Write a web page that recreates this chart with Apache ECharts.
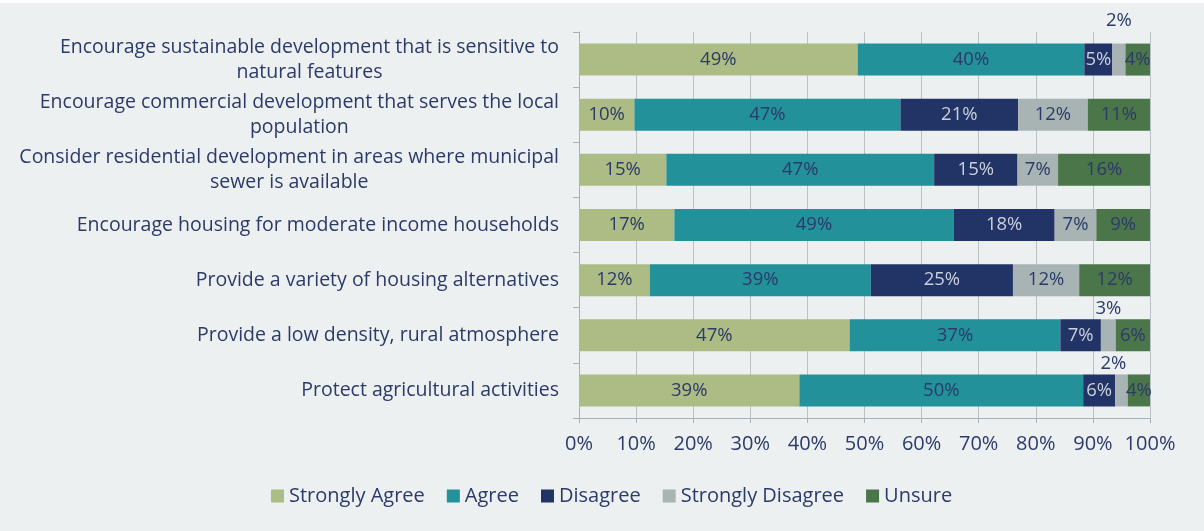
<!DOCTYPE html>
<html>
<head>
<meta charset="utf-8">
<script src="https://cdn.jsdelivr.net/npm/echarts@6/dist/echarts.min.js"></script>
<style>
  html, body { margin: 0; padding: 0; background: #ffffff; }
  #chart { width: 1204px; height: 528px; margin-top: 3px; background: #ecf0f0; }
</style>
</head>
<body>
<div id="chart"></div>
<script>
// Survey statements (top to bottom)
const categories = [
  'Encourage sustainable development that is sensitive to\nnatural features',
  'Encourage commercial development that serves the local\npopulation',
  'Consider residential development in areas where municipal\nsewer is available',
  'Encourage housing for moderate income households',
  'Provide a variety of housing alternatives',
  'Provide a low density, rural atmosphere',
  'Protect agricultural activities'
];

const seriesNames = ['Strongly Agree', 'Agree', 'Disagree', 'Strongly Disagree', 'Unsure'];

// Share of respondents (%) per statement
const stronglyAgree    = [48.8,  9.7, 15.3, 16.7, 12.4, 47.4, 38.6];
const agree            = [39.7, 46.6, 46.9, 48.9, 38.7, 36.9, 49.7];
const disagree         = [ 4.9, 20.6, 14.6, 17.7, 24.9,  7.1,  5.6];
const stronglyDisagree = [ 2.3, 12.2,  7.1,  7.3, 11.6,  2.6,  2.2];
const unsure           = [ 4.3, 10.9, 16.1,  9.4, 12.4,  6.0,  3.9];

const xTicks = [0, 10, 20, 30, 40, 50, 60, 70, 80, 90, 100];

const seriesValues = [stronglyAgree, agree, disagree, stronglyDisagree, unsure];
const colors = ['#adbb84', '#22919a', '#223366', '#a8b3b4', '#4a764a'];
const labelColors = ['#2c3a69', '#2c3a69', '#c9d0dc', '#2c3a69', '#2c3a69'];

const FONT = '"Open Sans", "Noto Sans", sans-serif';
const TEXT = '#2c3a69';

// Thin segments get their label lifted above the bar
function dataFor(values, si) {
  return values.map((v, i) => {
    if (si === 3 && v < 4) {
      return {
        value: v,
        label: {
          position: 'top',
          distance: i === 0 ? 13 : 1,
          offset: i === 6 ? [-8, 0] : [0, 0]
        }
      };
    }
    return v;
  });
}

const series = seriesNames.map((name, si) => ({
  name: name,
  type: 'bar',
  stack: 'total',
  barWidth: 32,
  itemStyle: { color: colors[si] },
  label: {
    show: true,
    position: 'inside',
    color: labelColors[si],
    fontFamily: FONT,
    fontSize: 18.5,
    formatter: p => Math.round(p.value) + '%'
  },
  emphasis: { disabled: true },
  data: dataFor(seriesValues[si], si)
}));

const chart = echarts.init(document.getElementById('chart'), null, { renderer: 'canvas' });
chart.setOption({
  animation: false,
  backgroundColor: '#ecf0f0',
  color: colors,
  grid: { left: 579, right: 54, top: 29, bottom: 113, containLabel: false },
  legend: {
    data: seriesNames,
    left: 266,
    top: 478,
    icon: 'rect',
    itemWidth: 13,
    itemHeight: 13,
    itemGap: 22,
    textStyle: { color: TEXT, fontFamily: FONT, fontSize: 20 }
  },
  xAxis: {
    type: 'value',
    min: xTicks[0],
    max: xTicks[xTicks.length - 1],
    interval: xTicks[1] - xTicks[0],
    axisLine: { show: true, lineStyle: { color: '#a7b1b6', width: 1 } },
    axisTick: { show: true, length: 5, lineStyle: { color: '#a7b1b6' } },
    splitLine: { show: true, lineStyle: { color: '#b9c2c6', width: 1 } },
    axisLabel: {
      color: TEXT,
      fontFamily: FONT,
      fontSize: 20,
      margin: 16,
      formatter: '{value}%'
    }
  },
  yAxis: {
    type: 'category',
    inverse: true,
    data: categories,
    axisLine: { show: true, lineStyle: { color: '#a7b1b6', width: 1 } },
    axisTick: { show: true, length: 6, lineStyle: { color: '#a7b1b6' } },
    axisLabel: {
      color: TEXT,
      fontFamily: FONT,
      fontSize: 19.5,
      margin: 20,
      lineHeight: 25,
      formatter: v => v.split('\n').map(s => '{c|' + s + '}').join('\n'),
      rich: {
        c: { align: 'center', color: TEXT, fontFamily: FONT, fontSize: 19.5, lineHeight: 25 }
      }
    }
  },
  series: series
});
</script>
</body>
</html>
